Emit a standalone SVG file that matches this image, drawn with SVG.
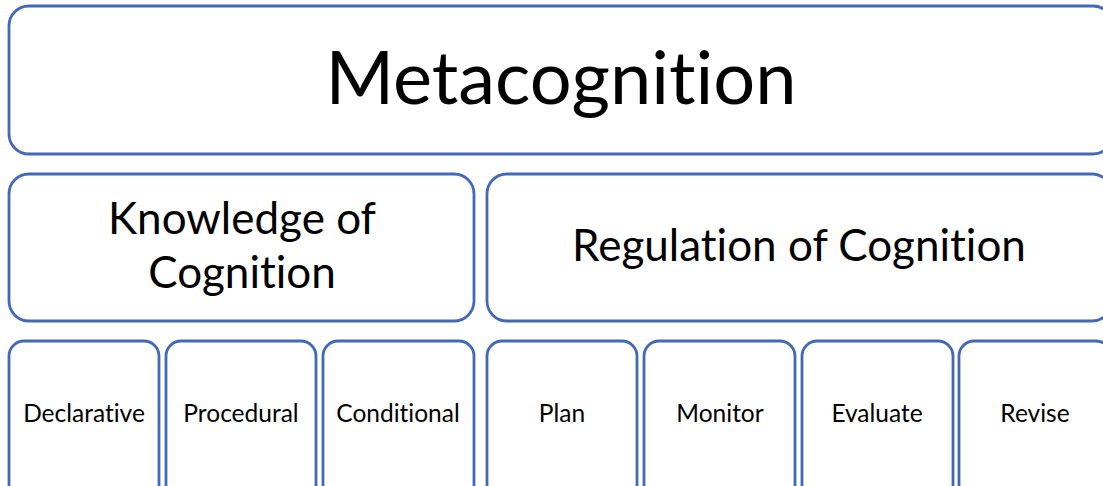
<svg xmlns="http://www.w3.org/2000/svg" width="1103" height="486" viewBox="0 0 1103 486">
  <style>
    .box { fill: #ffffff; stroke: #4169b8; stroke-width: 2.8; }
    .lbl { font-family: Lato, "Open Sans", sans-serif; fill: #000000; text-anchor: middle; font-variant-ligatures: none; }
    .l1 { font-size: 74px; }
    .l2 { font-size: 44px; }
    .l3 { font-size: 24.5px; }
  </style>
  <rect width="1103" height="486" fill="#ffffff"/>

  <!-- top level -->
  <g id="metacognition">
    <rect class="box" x="9" y="6" width="1104" height="148" rx="20"/>
    <text class="lbl l1" x="561" y="104">Metacognition</text>
  </g>

  <!-- second level -->
  <g id="knowledge">
    <rect class="box" x="9" y="174" width="465" height="147" rx="20"/>
    <text class="lbl l2" x="242" y="234">Knowledge of</text>
    <text class="lbl l2" x="242" y="288">Cognition</text>
  </g>
  <g id="regulation">
    <rect class="box" x="487" y="174" width="625" height="147" rx="20"/>
    <text class="lbl l2" x="799" y="261">Regulation of Cognition</text>
  </g>

  <!-- third level -->
  <g id="declarative">
    <rect class="box" x="9" y="341" width="150" height="160" rx="15"/>
    <text class="lbl l3" x="84" y="422">Declarative</text>
  </g>
  <g id="procedural">
    <rect class="box" x="166" y="341" width="150" height="160" rx="15"/>
    <text class="lbl l3" x="241" y="422">Procedural</text>
  </g>
  <g id="conditional">
    <rect class="box" x="323" y="341" width="151" height="160" rx="15"/>
    <text class="lbl l3" x="398" y="422">Conditional</text>
  </g>
  <g id="plan">
    <rect class="box" x="487" y="341" width="150" height="160" rx="15"/>
    <text class="lbl l3" x="562" y="422">Plan</text>
  </g>
  <g id="monitor">
    <rect class="box" x="644" y="341" width="151" height="160" rx="15"/>
    <text class="lbl l3" x="720" y="422">Monitor</text>
  </g>
  <g id="evaluate">
    <rect class="box" x="802" y="341" width="151" height="160" rx="15"/>
    <text class="lbl l3" x="877" y="422">Evaluate</text>
  </g>
  <g id="revise">
    <rect class="box" x="959" y="341" width="152" height="160" rx="15"/>
    <text class="lbl l3" x="1035" y="422">Revise</text>
  </g>

  <!-- no connectors in this diagram: the boxes are stacked -->
  <g id="connectors"/>
</svg>
